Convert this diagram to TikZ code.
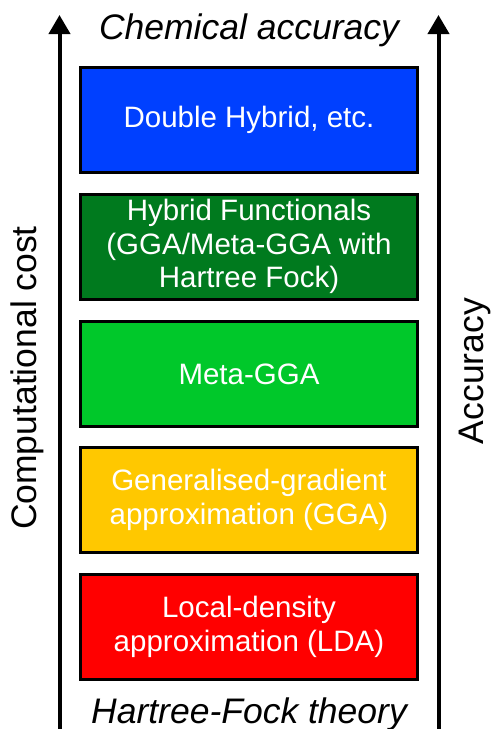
\documentclass[tikz,border=0pt]{standalone}
\usepackage{fontspec}
\setmainfont{Liberation Sans}
\usetikzlibrary{arrows.meta}
\definecolor{cblue}{HTML}{0040FF}
\definecolor{cdgreen}{HTML}{007A1E}
\definecolor{cgreen}{HTML}{00C82A}
\definecolor{cyellow}{HTML}{FFC800}
\definecolor{cred}{HTML}{FF0000}
\tikzset{
  level/.style={draw=black, line width=3pt, minimum width=337pt, minimum height=105pt,
    inner sep=0pt, text=white, align=center, font=\fontsize{29.5}{33.5}\selectfont},
  axis/.style={line width=4pt, -{Triangle[length=19pt,width=21pt]}},
  biglabel/.style={font=\fontsize{35.5}{40}\selectfont, inner sep=0pt},
}
\begin{document}
\begin{tikzpicture}[x=1pt,y=-1pt]
\useasboundingbox (0,0) rectangle (491,729);
\coordinate (lb) at (59.5,729);
\coordinate (lt) at (59.5,15);
\coordinate (rb) at (438.5,729);
\coordinate (rt) at (438.5,15);
\draw[axis] (lb) -- (lt);
\draw[axis] (rb) -- (rt);
\node[level, fill=cblue] (dh) at (249,120) {Double Hybrid, etc.};
\node[level, fill=cdgreen] (hy) at (249,246.5) {Hybrid Functionals\\(GGA/Meta-GGA with\\Hartree Fock)};
\node[level, fill=cgreen] (mg) at (249,374) {Meta-GGA};
\node[level, fill=cyellow] (gga) at (249,500) {Generalised-gradient\\approximation (GGA)};
\node[level, fill=cred] (lda) at (249,627) {Local-density\\approximation (LDA)};
\node[biglabel, anchor=base] (chem) at (249,39.5) {\itshape Chemical accuracy};
\node[biglabel, anchor=base] (hf) at (249,723) {\itshape Hartree-Fock theory};
\node[biglabel, rotate=90, anchor=base] (cc) at (36,378) {Computational cost};
\node[biglabel, rotate=90, anchor=base] (acc) at (483,371) {Accuracy};
\end{tikzpicture}
\end{document}
